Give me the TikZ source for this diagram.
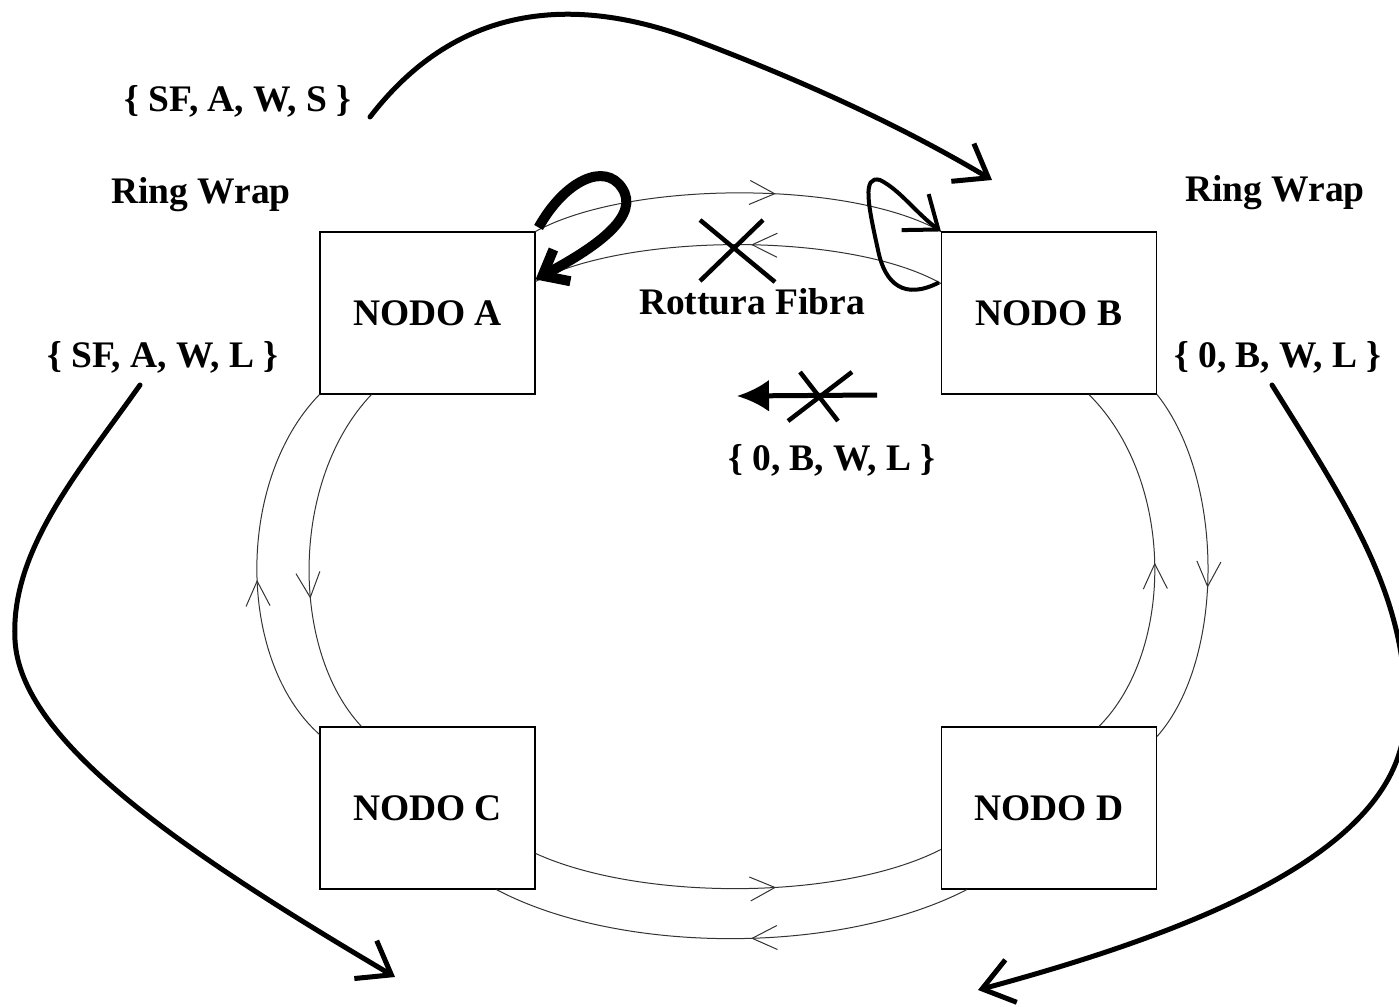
\documentclass[tikz,border=0pt]{standalone}
\usepackage{fontspec}
\setmainfont{Liberation Serif}
\usetikzlibrary{arrows.meta,decorations.markings,calc}
\begin{document}
\begin{tikzpicture}[x=1pt,y=-1pt,
  txt/.style={font=\fontsize{37.5}{44}\selectfont\bfseries},
  box/.style={draw=black, line width=1.1pt, minimum width=215pt, minimum height=162pt, inner sep=0pt, txt},
  lbl/.style={txt, inner sep=0pt, anchor=base},
  ring/.style={draw=black!80, line width=1pt},
  midarrow/.style={decoration={markings, mark=at position #1 with {\arrow{Straight Barb[length=25pt,width=24pt]}}}, postaction={decorate}},
  bigcurve/.style={line width=5pt, line cap=round, -{Straight Barb[length=30pt,width=44pt]}},
  crossline/.style={line width=4.5pt},
]
\useasboundingbox (0,0) rectangle (1399,1006);

% nodes
\node[box] (A) at (427.5,313) {NODO A};
\node[box] (B) at (1049,313) {NODO B};
\node[box] (C) at (427.5,808) {NODO C};
\node[box] (D) at (1049,808) {NODO D};

% labels
\node[lbl] (l1) at (238,112) {\{ SF, A, W, S \}};
\node[lbl] (l2) at (201,203) {Ring Wrap};
\node[lbl] (l3) at (1275,201) {Ring Wrap};
\node[lbl] (l4) at (163,367) {\{ SF, A, W, L \}};
\node[lbl] (l5) at (1278,367) {\{ 0, B, W, L \}};
\node[lbl] (l6) at (752,314) {Rottura Fibra};
\node[lbl] (l7) at (832,470) {\{ 0, B, W, L \}};

% ring, top
\draw[ring, midarrow=0.59] (A.north east) .. controls (630,180) and (850,180) .. (B.north west);
\draw[ring, midarrow=0.47] ($(B.north west)+(0,52)$) .. controls (850,232) and (630,232) .. ($(A.north east)+(0,50)$);
% ring, left
\draw[ring, midarrow=0.46] ($(C.north west)+(0,8)$) .. controls (236,660) and (236,480) .. (A.south west);
\draw[ring, midarrow=0.61] ($(A.south west)+(52,0)$) .. controls (290,480) and (290,650) .. ($(C.north west)+(42,0)$);
% ring, right
\draw[ring, midarrow=0.56] (B.south east) .. controls (1225,480) and (1225,660) .. ($(D.north east)+(0,10)$);
\draw[ring, midarrow=0.49] ($(D.north west)+(158,0)$) .. controls (1175,650) and (1175,480) .. ($(B.south west)+(148,0)$);
% ring, bottom
\draw[ring, midarrow=0.59] ($(C.north east)+(0,127)$) .. controls (640,901) and (840,901) .. ($(D.north west)+(0,123)$);
\draw[ring, midarrow=0.46] ($(D.south west)+(26,0)$) .. controls (840,955) and (620,955) .. ($(C.south west)+(177,0)$);

% fibre break cross
\coordinate (x1) at (700,220); \coordinate (x2) at (775,282);
\coordinate (x3) at (763,220); \coordinate (x4) at (700,281);
\draw[crossline] (x1) -- (x2);
\draw[crossline] (x3) -- (x4);

% blocked arrow
\coordinate (ba1) at (877,395); \coordinate (ba2) at (737,396);
\draw[line width=5pt, -{Latex[length=32pt,width=32pt]}] (ba1) -- (ba2);
\coordinate (y1) at (800,372); \coordinate (y2) at (838,421);
\coordinate (y3) at (852,372); \coordinate (y4) at (788,421);
\draw[crossline] (y1) -- (y2);
\draw[crossline] (y3) -- (y4);

% big curved arrows
\coordinate (s1) at (370,117); \coordinate (e1) at (992,180);
\draw[bigcurve] (s1) .. controls (460,0) and (580,-5) .. (700,42) .. controls (800,80) and (900,125) .. (e1);

\coordinate (s2) at (140,385); \coordinate (e2) at (395,977);
\draw[bigcurve] (s2) .. controls (80,470) and (10,550) .. (15,640) .. controls (20,740) and (180,850) .. (e2);

\coordinate (s3) at (1272,385); \coordinate (e3) at (978,990);
\draw[bigcurve] (s3) .. controls (1350,510) and (1410,600) .. (1405,720) .. controls (1400,850) and (1200,930) .. (e3);

% loop at A (wrap)
\draw[line width=10pt, -{Straight Barb[length=22pt,width=36pt]}] ($(A.north east)+(3,-4)$) .. controls (565,180) and (605,162) .. (622,188) .. controls (640,215) and (600,245) .. ($(A.north east)+(0,48)$);

% loop at B (wrap)
\draw[line width=4pt, -{Straight Barb[length=29pt,width=45pt]}] ($(B.north west)+(-2,51)$) .. controls (905,300) and (885,285) .. (878,250) .. controls (868,205) and (862,175) .. (880,180) .. controls (900,190) and (915,212) .. (B.north west);
\end{tikzpicture}
\end{document}
